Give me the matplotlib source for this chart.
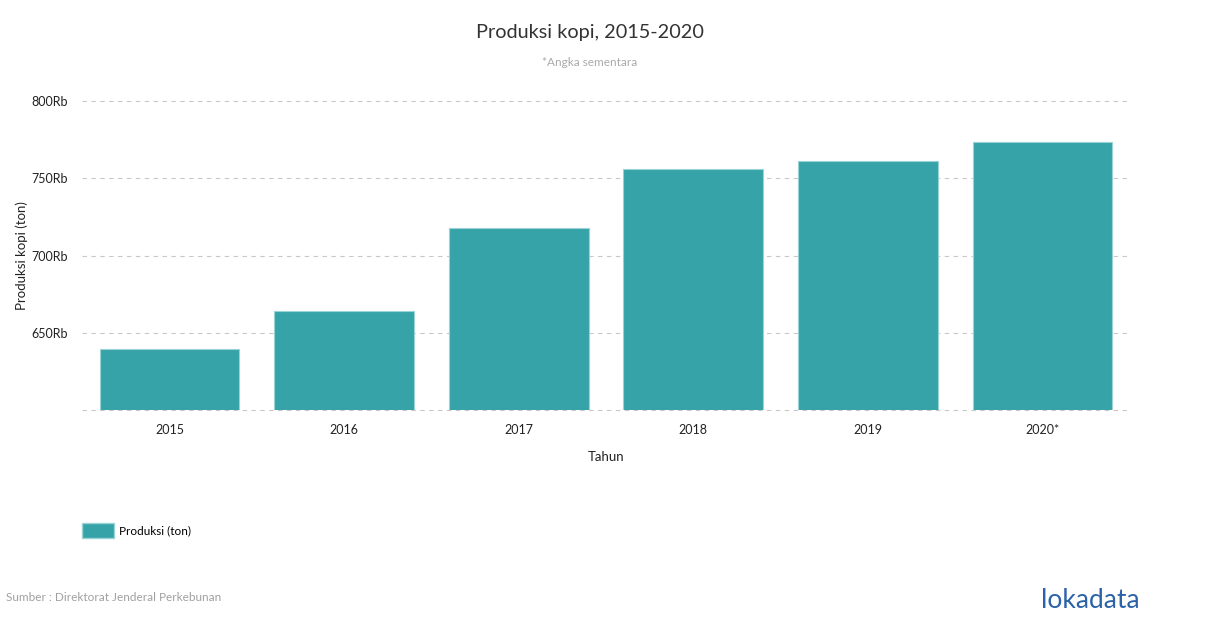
import matplotlib
matplotlib.use("Agg")
import matplotlib.pyplot as plt
from matplotlib.patches import Patch

years = ["2015", "2016", "2017", "2018", "2019", "2020*"]
produksi = [639412, 663871, 717962, 756051, 760963, 773409]  # ton
yticks = [600000, 650000, 700000, 750000, 800000]
ytick_labels = ["", "650Rb", "700Rb", "750Rb", "800Rb"]

plt.rcParams["font.family"] = ["Lato", "DejaVu Sans"]

fig = plt.figure(figsize=(12.1, 6.28), dpi=100)
ax = fig.add_axes([0.0679, 0.3471, 0.8658, 0.4921])

x = range(len(years))
ax.bar(x, produksi, width=0.8, color="#36a3a8", edgecolor="#9ad3d5", linewidth=0.8, zorder=2)
ax.set_xlim(-0.5, len(years) - 0.5)
ax.set_ylim(600000, 800000)
ax.set_yticks(yticks)
ax.set_yticklabels(ytick_labels)
ax.set_xticks(list(x))
ax.set_xticklabels(years)
ax.grid(axis="y", color="#c8c8c8", ls=(0, (4, 4)), lw=0.8, zorder=0)
for gl in ax.get_ygridlines():
    gl.set_clip_on(False)
for s in ax.spines.values():
    s.set_visible(False)
ax.tick_params(length=0, labelsize=9, colors="#222222")
ax.tick_params(axis="x", pad=10)
ax.tick_params(axis="y", pad=10)
ax.set_xlabel("Tahun", fontsize=9.5, color="#222222", labelpad=11)
ax.set_ylabel("Produksi kopi (ton)", fontsize=9.5, color="#222222", labelpad=3)

fig.text(0.4876, 0.948, "Produksi kopi, 2015-2020", ha="center", va="center", fontsize=14.3, color="#333333")
fig.text(0.4876, 0.901, "*Angka sementara", ha="center", va="center", fontsize=8.5, color="#aaaaaa")

fig.legend(handles=[Patch(facecolor="#36a3a8", edgecolor="#9ad3d5", label="Produksi (ton)")],
           loc="center left", bbox_to_anchor=(0.059, 0.155), frameon=False, fontsize=8.5,
           handlelength=2.7, handleheight=1.5, handletextpad=0.4)

fig.text(0.005, 0.048, "Sumber : Direktorat Jenderal Perkebunan", ha="left", va="center",
         fontsize=8.5, color="#a0a0a0")
fig.text(0.942, 0.044, "lokadata", ha="right", va="center", fontsize=19, color="#2b62a8")

fig.savefig("out.png", dpi=100)
